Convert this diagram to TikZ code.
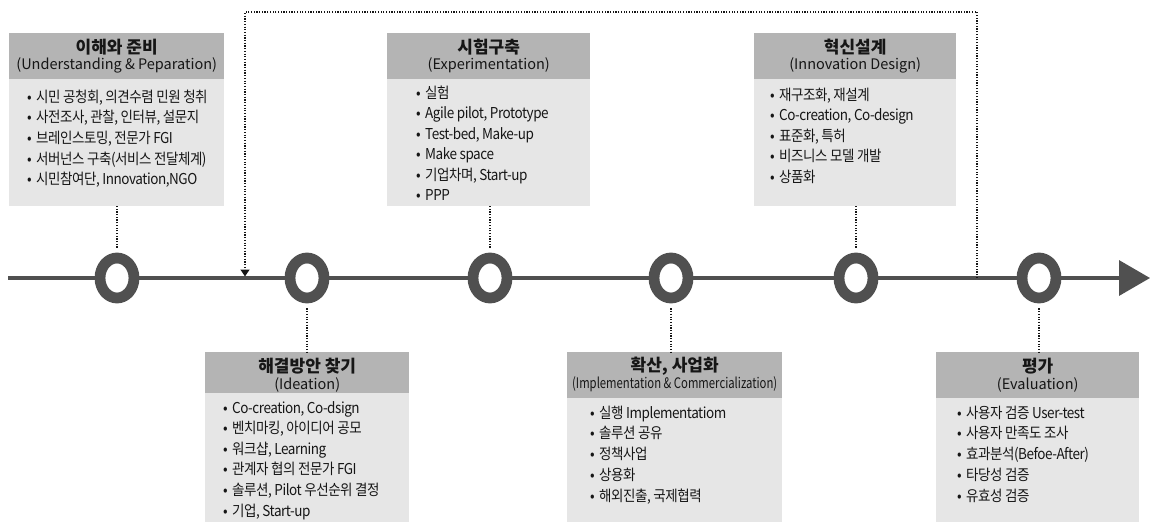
\documentclass[tikz,border=0pt]{standalone}
\usepackage{fontspec}
\setmainfont{Noto Sans CJK KR}
\newfontfamily\itemfont[FakeStretch=0.9, LetterSpace=-3]{Noto Sans CJK KR}
\usetikzlibrary{arrows.meta, shapes.geometric}
\definecolor{inkC}{HTML}{161616}
\definecolor{axisC}{HTML}{505050}
\definecolor{headC}{HTML}{B4B4B4}
\definecolor{bodyC}{HTML}{E6E6E6}

\begin{document}
\begin{tikzpicture}[
  x=1pt,
  y=-1pt,
  line cap=round,
  line join=round,
  bodybox/.style={fill=bodyC, anchor=north west, inner sep=0pt},
  headbox/.style={fill=headC, anchor=north west, inner sep=0pt},
  titletext/.style={inner sep=0pt, text=inkC, font=\bfseries\fontsize{17pt}{19pt}\selectfont},
  subtext/.style={inner sep=0pt, text=inkC, font=\fontsize{14.5pt}{16pt}\selectfont},
  itemtext/.style={anchor=base west, inner sep=0pt, text=inkC, font=\itemfont\fontsize{15pt}{17pt}\selectfont},
  ring/.style={ellipse, draw=axisC, fill=white, line width=10.8pt, inner sep=0pt, minimum width=34pt, minimum height=40pt},
  link/.style={inkC, line width=1.3pt, line cap=butt, dash pattern=on 1.2pt off 1.5pt}
]

\useasboundingbox (0,0) rectangle (1150,522);

% Stage boxes
\foreach \n/\x/\y/\w/\h/\hh in {1/9/33/215/173/46, 2/387/33/203/173/46, 3/754/33/202/173/46,
                                 4/205/352/204/170/41, 5/567/352/215/170/46, 6/936/352/203/170/46}{
  \node[bodybox, minimum width=\w pt, minimum height=\h pt] (b\n) at (\x,\y) {};
  \node[headbox, minimum width=\w pt, minimum height=\hh pt] (h\n) at (\x,\y) {};
}

% Titles
\foreach \n/\ttl/\sub in {1/{이해와 준비}/{(Understanding \& Peparation)},
                          2/{시험구축}/{(Experimentation)},
                          3/{혁신설계}/{(Innovation Design)},
                          4/{해결방안 찾기}/{(Ideation)},
                          5/{확산, 사업화}/{\scalebox{0.78}[1]{(Implementation \& Commercialization)}},
                          6/{평가}/{(Evaluation)}}{
  \node[titletext] (t\n) at ([yshift=-14pt]h\n.north) {\ttl};
  \node[subtext] (s\n) at ([yshift=-32.5pt]h\n.north) {\sub};
}

% Items
\foreach \txt [count=\i from 0] in {{시민 공청회, 의견수렴 민원 청취}, {사전조사, 관찰, 인터뷰, 설문지},
    {브레인스토밍, 전문가 FGI}, {서버넌스 구축(서비스 전달체계)}, {시민참여단, Innovation,NGO}}{
  \node[itemtext] (i1-\i) at (27,102+20.7*\i) {\makebox[9pt][l]{•}\txt};
}
\foreach \txt [count=\i from 0] in {{실험}, {Agile pilot, Prototype}, {Test-bed, Make-up},
    {Make space}, {기업차며, Start-up}, {PPP}}{
  \node[itemtext] (i2-\i) at (416,98+20.5*\i) {\makebox[9pt][l]{•}\txt};
}
\foreach \txt [count=\i from 0] in {{재구조화, 재설계}, {Co-creation, Co-design}, {표준화, 특허},
    {비즈니스 모델 개발}, {상품화}}{
  \node[itemtext] (i3-\i) at (770,100+20.5*\i) {\makebox[9pt][l]{•}\txt};
}
\foreach \txt [count=\i from 0] in {{Co-creation, Co-dsign}, {벤치마킹, 아이디어 공모}, {워크샵, Learning},
    {관계자 협의 전문가 FGI}, {솔루션, Pilot 우선순위 결정}, {기업, Start-up}}{
  \node[itemtext] (i4-\i) at (223,413+20.6*\i) {\makebox[9pt][l]{•}\txt};
}
\foreach \txt [count=\i from 0] in {{실행 Implementatiom}, {솔루션 공유}, {정책사업},
    {상용화}, {해외진출, 국제협력}}{
  \node[itemtext] (i5-\i) at (590,418+20.75*\i) {\makebox[9pt][l]{•}\txt};
}
\foreach \txt [count=\i from 0] in {{사용자 검증 User-test}, {사용자 만족도 조사}, {효과분석(Befoe-After)},
    {타당성 검증}, {유효성 검증}}{
  \node[itemtext] (i6-\i) at (957,418+20.75*\i) {\makebox[9pt][l]{•}\txt};
}

% Time axis
\coordinate (axisS) at (8,278);
\coordinate (axisE) at (1150,278);
\draw[axisC, line width=3.4pt, line cap=butt, -{Triangle[length=31pt, width=35pt]}] (axisS) -- (axisE);

% Stages on the axis (r<n> belongs to box b<n>)
\foreach \n/\x in {1/117, 4/307, 2/490, 5/671, 3/856, 6/1039}{
  \node[ring] (r\n) at (\x,278) {};
}
\foreach \n/\side in {1/south, 2/south, 3/south, 4/north, 5/north, 6/north}{
  \draw[link, shorten <=5pt] (r\n) -- (r\n |- b\n.\side);
}

% Feedback loop
\coordinate (loopS) at (977,278);
\coordinate (loopE) at (245,276.5);
\coordinate (loopTop) at (611,12);
\draw[link, -{Triangle[length=7pt, width=9pt]}] (loopS) -- (loopS |- loopTop) -| (loopE);

\end{tikzpicture}
\end{document}
